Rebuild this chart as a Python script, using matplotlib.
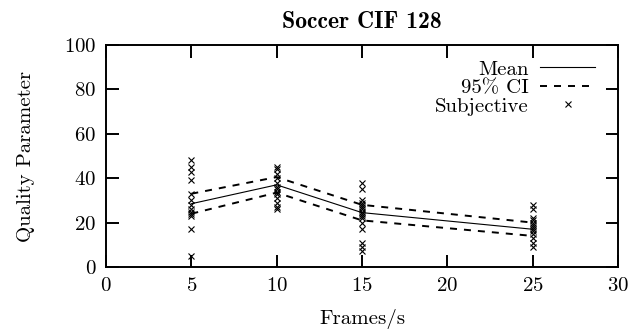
import matplotlib
matplotlib.use('Agg')
import matplotlib.pyplot as plt

# frame rates and summary stats
fps = [5, 10, 15, 25]
mean = [28.5, 37, 24.5, 17]
ci_low = [24, 33.5, 21, 14]
ci_high = [33, 40.5, 28, 20]

# individual subjective scores per frame rate
subj_5 = [48, 45, 43, 39, 33, 30, 28, 26, 25, 24, 23, 17, 5]
subj_10 = [45, 44, 42, 40, 38, 36, 35, 34, 33, 31, 29, 27, 26]
subj_15 = [38, 35, 30, 29, 28, 27, 26, 25, 24, 23, 22, 20, 17, 11, 9, 7]
subj_25 = [28, 26, 22, 21, 20, 19, 18, 17, 16, 15, 13, 11, 9]

plt.rcParams['font.family'] = ['cmr10', 'DejaVu Serif']
plt.rcParams['axes.formatter.use_mathtext'] = True

W, H = 633, 332
fig = plt.figure(figsize=(W / 100, H / 100), dpi=100)
ax = fig.add_axes([106 / W, (H - 267) / H, 512 / W, 222 / H])

ax.plot(fps, mean, color='black', lw=0.8, label='Mean')
ax.plot(fps, ci_high, color='black', lw=1.4, ls=(0, (3.6, 3.6)), label='95% CI')
ax.plot(fps, ci_low, color='black', lw=1.4, ls=(0, (3.6, 3.6)))

xs, ys = [], []
for f, vals in zip(fps, [subj_5, subj_10, subj_15, subj_25]):
    xs += [f] * len(vals)
    ys += vals
ax.plot(xs, ys, ls='none', marker='x', ms=4.5, mew=0.8, color='black', label='Subjective')

ax.set_xlim(0, 30)
ax.set_ylim(0, 100)
ax.set_xticks(range(0, 31, 5))
ax.set_yticks(range(0, 101, 20))
ax.tick_params(direction='in', length=9, width=1.4, top=True, right=True, labelsize=15, pad=7)
for s in ax.spines.values():
    s.set_linewidth(1.4)

ax.set_title('Soccer CIF 128', fontsize=17, family=['cmb10', 'DejaVu Serif'], pad=12)
ax.set_xlabel('Frames/s', fontsize=15, labelpad=10)
ax.set_ylabel('Quality Parameter', fontsize=15, labelpad=21)

ax.legend(loc='upper right', frameon=False, markerfirst=False, fontsize=15,
          handlelength=2.65, handletextpad=0.55, labelspacing=0.0,
          borderaxespad=0.0, bbox_to_anchor=(0.972, 0.97))

fig.savefig('out.png', dpi=100)
